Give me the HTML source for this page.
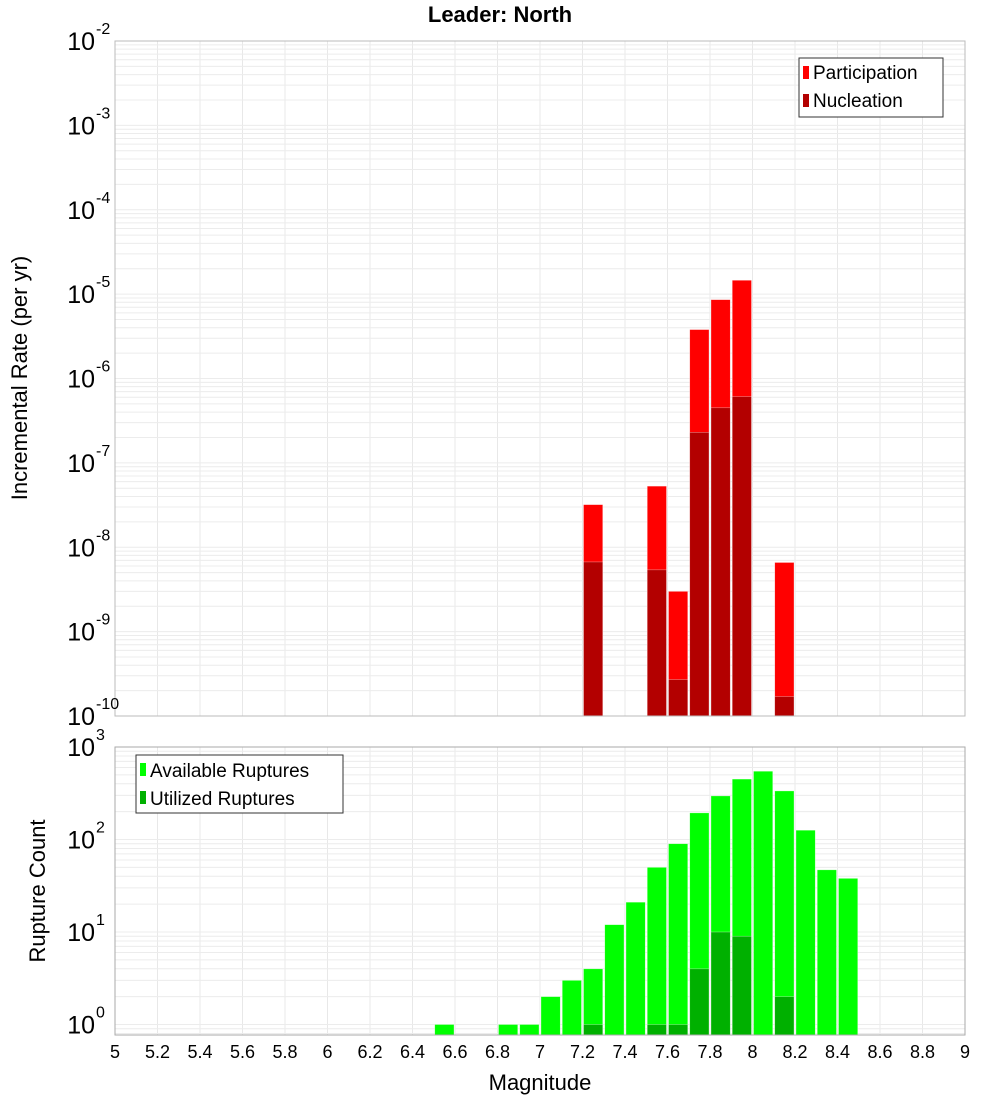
<!DOCTYPE html>
<html><head><meta charset="utf-8"><style>
body{margin:0;background:#fff;width:1000px;height:1100px;overflow:hidden}
svg{font-family:"Liberation Sans","DejaVu Sans",sans-serif}
</style></head><body>
<svg id="chart" width="1000" height="1100" xmlns="http://www.w3.org/2000/svg">
<text x="500" y="22" text-anchor="middle" font-size="22" font-weight="bold">Leader: North</text>
<g id="grid"></g><g id="bars"></g><g id="axes"></g>
<text transform="translate(27,378) rotate(-90)" text-anchor="middle" font-size="22">Incremental Rate (per yr)</text>
<text transform="translate(45,891) rotate(-90)" text-anchor="middle" font-size="22">Rupture Count</text>
<text x="540" y="1090" text-anchor="middle" font-size="22">Magnitude</text>
<g>
<rect x="799" y="58" width="144" height="59" fill="#fff" stroke="#333"/>
<rect x="803" y="66" width="6" height="13" fill="#ff0000"/><text x="813" y="79" font-size="19">Participation</text>
<rect x="803" y="94" width="6" height="13" fill="#b30000"/><text x="813" y="107" font-size="19">Nucleation</text>
</g>
<g>
<rect x="136" y="755" width="207" height="58" fill="#fff" stroke="#333"/>
<rect x="140" y="763" width="6" height="13" fill="#00ff00"/><text x="150" y="777" font-size="19">Available Ruptures</text>
<rect x="140" y="791" width="6" height="13" fill="#00b000"/><text x="150" y="805" font-size="19">Utilized Ruptures</text>
</g>
</svg>
<script>
const participationMags=[7.2,7.5,7.6,7.7,7.8,7.9,8.1];
const participationRates=[3.2e-8,5.3e-8,3.0e-9,3.8e-6,8.6e-6,1.46e-5,6.6e-9];
const nucleationRates=[6.7e-9,5.4e-9,2.7e-10,2.3e-7,4.5e-7,6.1e-7,1.7e-10];
const countMags=[6.5,6.8,6.9,7.0,7.1,7.2,7.3,7.4,7.5,7.6,7.7,7.8,7.9,8.0,8.1,8.2,8.3,8.4];
const availableCounts=[1,1,1,2,3,4,12,21,50,90,194,296,450,547,335,126,47,38];
const utilizedCounts=[0,0,0,0,0,1,0,0,1,1,4,10,9,0,2,0,0,0];
const xTicks=[5,5.2,5.4,5.6,5.8,6,6.2,6.4,6.6,6.8,7,7.2,7.4,7.6,7.8,8,8.2,8.4,8.6,8.8,9];
const topExps=[-2,-3,-4,-5,-6,-7,-8,-9,-10];
const botExps=[3,2,1,0];
const NS="http://www.w3.org/2000/svg";
const X0=115,X1=965;
const xs=m=>X0+(m-5)/4*(X1-X0);
const T0=41,T1=716;
const yTop=v=>T0+(-2-Math.log10(v))/8*(T1-T0);
const B0=747,B1=1035,BD=92.5;
const yBot=v=>B0+(3-Math.log10(v))*BD;
function mk(parent,tag,attrs){const e=document.createElementNS(NS,tag);for(const k in attrs)e.setAttribute(k,attrs[k]);document.getElementById(parent).appendChild(e);return e;}
// grids
for(const t of xTicks){const x=xs(t);
 let g=mk('grid','line',{x1:x,x2:x,y1:T0,y2:T1,stroke:'#e8e8e8'});
 
 
 g=mk('grid','line',{x1:x,x2:x,y1:B0,y2:B1,stroke:'#e8e8e8'});
 
 }
for(let e=-10;e<-2;e++)for(let k=1;k<10;k++){const y=yTop(k*Math.pow(10,e));
 const g=mk('grid','line',{x1:X0,x2:X1,y1:y,y2:y,stroke:'#ececec'});
 
 }
for(let e=-1;e<3;e++)for(let k=1;k<10;k++){const y=yBot(k*Math.pow(10,e));if(y>B1||y<B0)continue;
 const g=mk('grid','line',{x1:X0,x2:X1,y1:y,y2:y,stroke:'#ececec'});
 
 }
// bars
function bar(m,v,fn,base,fill,name){if(v<=0)return;const x=xs(m)+1,w=xs(m+0.1)-xs(m)-2;const y=Math.max(fn(v),0);
 const r=mk('bars','rect',{x:x,y:y,width:w,height:base-y,fill:fill,stroke:'#fff','stroke-opacity':0.5,'stroke-width':0.6});
 
 }
participationMags.forEach((m,i)=>{bar(m,participationRates[i],yTop,T1,'#ff0000','participation-bar');bar(m,nucleationRates[i],yTop,T1,'#b30000','nucleation-bar');});
countMags.forEach((m,i)=>{bar(m,availableCounts[i],yBot,B1,'#00ff00','available-bar');bar(m,utilizedCounts[i],yBot,B1,'#00b000','utilized-bar');});
// frames
let f=mk('axes','rect',{x:X0,y:T0,width:X1-X0,height:T1-T0,fill:'none',stroke:'#bbb'});


f=mk('axes','rect',{x:X0,y:B0,width:X1-X0,height:B1-B0,fill:'none',stroke:'#aaa'});


// tick labels
for(const t of xTicks){const l=mk('axes','text',{x:xs(t),y:1058,'text-anchor':'middle','font-size':18});l.textContent=String(t);
 
 }
function ylab(y,e,name){const l=mk('axes','text',{x:95,y:y+9,'text-anchor':'end','font-size':25});
 
 
 l.textContent='10';
 const s=mk('axes','text',{x:96,y:y-7,'text-anchor':'start','font-size':16});s.textContent=String(e);
 
 }
for(const e of topExps)ylab(yTop(Math.pow(10,e)),e,'top-y-tick-label');
for(const e of botExps)ylab(yBot(Math.pow(10,e)),e,'bottom-y-tick-label');
</script>
</body></html>
